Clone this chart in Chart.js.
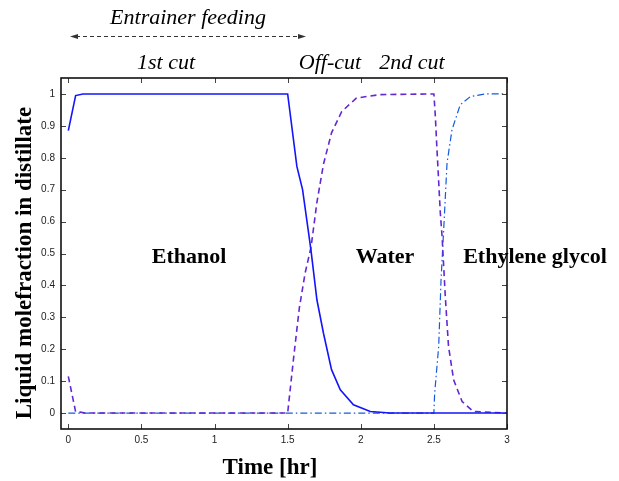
<!DOCTYPE html>
<html>
<head>
<meta charset="utf-8">
<script src="https://cdn.jsdelivr.net/npm/chart.js@4/dist/chart.umd.min.js"></script>
<style>
  html, body { margin: 0; padding: 0; background: #fff; }
  canvas { display: block; }
</style>
</head>
<body>
<canvas id="distChart" width="619" height="481"></canvas>
<script>
// values (time in hr, mole fraction in distillate)
var ethanolTime = [0, 0.05, 0.1, 1.5, 1.563, 1.602, 1.659, 1.70, 1.745, 1.80, 1.86, 1.95, 2.065, 2.2, 3];
var ethanolFrac = [0.885, 0.995, 1, 1, 0.773, 0.70, 0.512, 0.355, 0.25, 0.136, 0.073, 0.026, 0.005, 0, 0];

var waterTime = [0, 0.05, 0.08, 0.12, 1.5, 1.54, 1.58, 1.62, 1.66, 1.70, 1.745, 1.80, 1.87, 1.97, 2.13, 2.5,
                 2.51, 2.52, 2.544, 2.556, 2.578, 2.60, 2.635, 2.693, 2.77, 3];
var waterFrac = [0.115, 0.004, 0.003, 0, 0, 0.17, 0.33, 0.44, 0.52, 0.66, 0.78, 0.878, 0.945, 0.987, 0.998, 1,
                 0.93, 0.836, 0.627, 0.554, 0.366, 0.209, 0.104, 0.036, 0.005, 0];

var glycolTime = [0, 2.5, 2.505, 2.533, 2.549, 2.567, 2.59, 2.624, 2.68, 2.75, 2.85, 3];
var glycolFrac = [0, 0, 0.06, 0.21, 0.418, 0.575, 0.784, 0.888, 0.966, 0.992, 1, 1];

var xTicks = [0, 0.5, 1, 1.5, 2, 2.5, 3];
var yTicks = [0, 0.1, 0.2, 0.3, 0.4, 0.5, 0.6, 0.7, 0.8, 0.9, 1];

function toPoints(xs, ys) {
  return xs.map(function (x, i) { return { x: x, y: ys[i] }; });
}

var serif = '"Liberation Serif", "Times New Roman", serif';

// box, inward ticks on all sides, and the text annotations
var framePlugin = {
  id: 'frame',
  afterDraw: function (chart) {
    var ctx = chart.ctx;
    var a = chart.chartArea;
    var xs = chart.scales.x, ys = chart.scales.y;
    ctx.save();

    ctx.strokeStyle = '#444';
    ctx.lineWidth = 1;
    xTicks.forEach(function (v) {
      var px = Math.round(xs.getPixelForValue(v)) + 0.5;
      ctx.beginPath();
      ctx.moveTo(px, a.bottom); ctx.lineTo(px, a.bottom - 5);
      ctx.moveTo(px, a.top); ctx.lineTo(px, a.top + 5);
      ctx.stroke();
    });
    yTicks.forEach(function (v) {
      var py = Math.round(ys.getPixelForValue(v)) + 0.5;
      ctx.beginPath();
      ctx.moveTo(a.left, py); ctx.lineTo(a.left + 5, py);
      ctx.moveTo(a.right, py); ctx.lineTo(a.right - 5, py);
      ctx.stroke();
    });

    ctx.strokeStyle = '#111';
    ctx.lineWidth = 1.6;
    ctx.strokeRect(a.left, a.top, a.right - a.left, a.bottom - a.top);

    ctx.fillStyle = '#000';
    ctx.textAlign = 'center';
    ctx.textBaseline = 'middle';

    // component labels
    ctx.font = 'bold 22px ' + serif;
    ctx.fillText('Ethanol', 189, 257);
    ctx.fillText('Water', 385, 257);
    ctx.fillText('Ethylene glycol', 535, 257);

    // cut labels and entrainer feeding
    ctx.font = 'italic 22px ' + serif;
    ctx.fillText('1st cut', 166, 63);
    ctx.fillText('Off-cut', 330, 63);
    ctx.fillText('2nd cut', 412, 63);
    ctx.fillText('Entrainer feeding', 188, 18);

    // dashed double arrow
    var x0 = 70, x1 = 306, ay = 36.5;
    ctx.strokeStyle = '#333';
    ctx.lineWidth = 1;
    ctx.setLineDash([4, 3]);
    ctx.beginPath();
    ctx.moveTo(x0 + 6, ay); ctx.lineTo(x1 - 6, ay);
    ctx.stroke();
    ctx.setLineDash([]);
    ctx.fillStyle = '#333';
    ctx.beginPath();
    ctx.moveTo(x0, ay); ctx.lineTo(x0 + 8, ay - 2.5); ctx.lineTo(x0 + 8, ay + 2.5); ctx.closePath();
    ctx.fill();
    ctx.beginPath();
    ctx.moveTo(x1, ay); ctx.lineTo(x1 - 8, ay - 2.5); ctx.lineTo(x1 - 8, ay + 2.5); ctx.closePath();
    ctx.fill();

    // axis titles
    ctx.fillStyle = '#000';
    ctx.font = 'bold 23px ' + serif;
    ctx.fillText('Time [hr]', 270, 468);
    ctx.translate(25, 263);
    ctx.rotate(-Math.PI / 2);
    ctx.fillText('Liquid molefraction in distillate', 0, 0);

    ctx.restore();
  }
};

var ctx = document.getElementById('distChart').getContext('2d');

var chart = new Chart(ctx, {
  type: 'scatter',
  data: {
    datasets: [{
      label: 'Ethanol',
      data: toPoints(ethanolTime, ethanolFrac),
      showLine: true,
      borderColor: 'rgb(20, 20, 250)',
      borderWidth: 1.6,
      pointRadius: 0,
      fill: false
    }, {
      label: 'Water',
      data: toPoints(waterTime, waterFrac),
      showLine: true,
      borderColor: 'rgb(100, 40, 210)',
      borderWidth: 1.6,
      borderDash: [6, 4],
      pointRadius: 0,
      fill: false
    }, {
      label: 'Ethylene glycol',
      data: toPoints(glycolTime, glycolFrac),
      showLine: true,
      borderColor: 'rgb(20, 90, 220)',
      borderWidth: 1.2,
      borderDash: [7, 3, 1.5, 3],
      pointRadius: 0,
      fill: false
    }]
  },
  options: {
    responsive: false,
    animation: false,
    layout: { padding: { top: 78, right: 112, left: 0, bottom: 0 } },
    plugins: {
      legend: { display: false },
      tooltip: { enabled: false }
    },
    scales: {
      x: {
        type: 'linear',
        min: -0.05,
        max: 3,
        afterBuildTicks: function (scale) {
          scale.ticks = xTicks.map(function (v) { return { value: v }; });
        },
        afterFit: function (scale) { scale.height = 52; },
        grid: { display: false, drawTicks: false },
        border: { display: false },
        ticks: {
          padding: 5,
          maxRotation: 0,
          color: '#222',
          font: { family: '"Liberation Sans", Arial, sans-serif', size: 10 },
          callback: function (v) { return String(v); }
        }
      },
      y: {
        type: 'linear',
        min: -0.05,
        max: 1.05,
        afterBuildTicks: function (scale) {
          scale.ticks = yTicks.map(function (v) { return { value: v }; });
        },
        afterFit: function (scale) { scale.width = 61; },
        grid: { display: false, drawTicks: false },
        border: { display: false },
        ticks: {
          padding: 6,
          color: '#222',
          font: { family: '"Liberation Sans", Arial, sans-serif', size: 10 },
          callback: function (v) { return String(Math.round(v * 10) / 10); }
        }
      }
    }
  },
  plugins: [framePlugin]
});
</script>
</body>
</html>
